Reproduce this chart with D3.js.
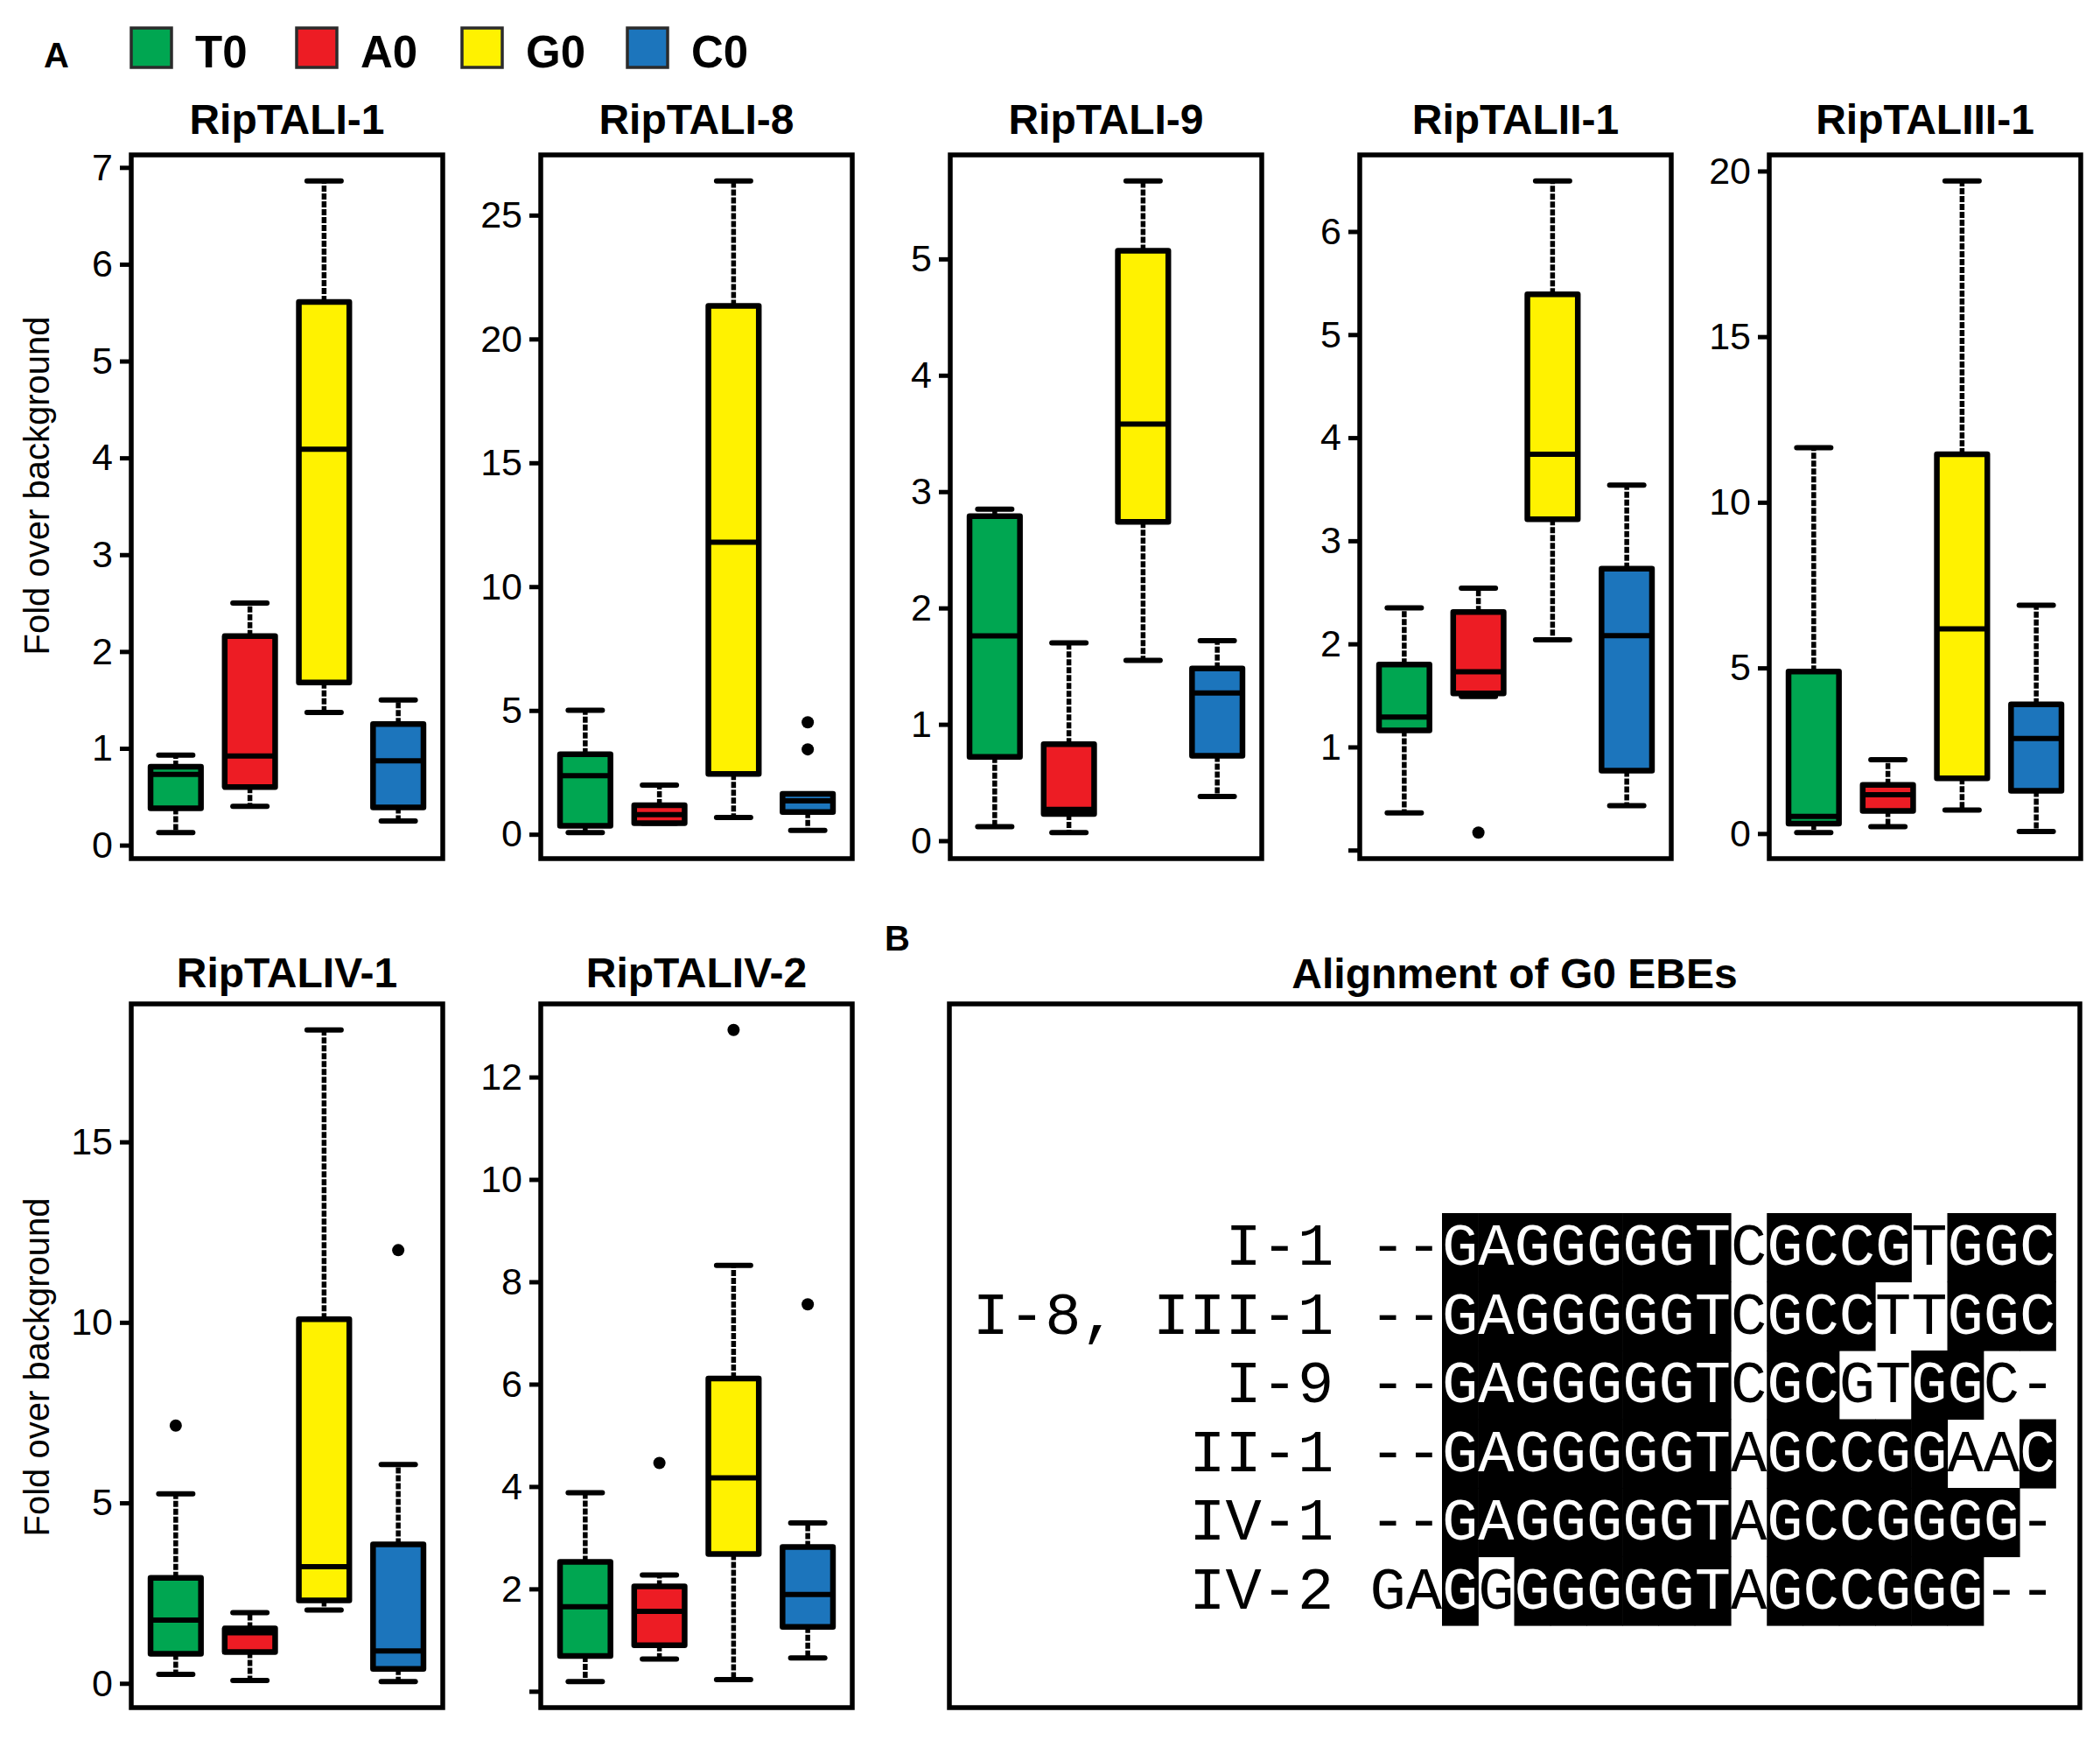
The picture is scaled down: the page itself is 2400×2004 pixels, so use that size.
<!DOCTYPE html>
<html>
<head>
<meta charset="utf-8">
<script src="https://cdn.jsdelivr.net/npm/d3@7"></script>
<style>
  body { margin: 0; background: #fff; }
  svg { font-family: "Liberation Sans", Arial, sans-serif; }
</style>
</head>
<body>
<script>
// groups shown in every panel
const groups = ["T0", "A0", "G0", "C0"];
const palette = ["#00a651", "#ed1c24", "#fff200", "#1c75bc"];

const panelTitles = ["RipTALI-1", "RipTALI-8", "RipTALI-9", "RipTALII-1", "RipTALIII-1", "RipTALIV-1", "RipTALIV-2"];

// [lower whisker, Q1, median, Q3, upper whisker] per group
const ripTALI_1   = [[0.13, 0.38, 0.73, 0.81, 0.93], [0.40, 0.60, 0.92, 2.16, 2.50], [1.37, 1.68, 4.09, 5.61, 6.86], [0.25, 0.39, 0.87, 1.25, 1.50]];
const ripTALI_8   = [[0.07, 0.34, 2.37, 3.23, 5.01], [0.45, 0.45, 0.79, 1.17, 1.99], [0.68, 2.44, 11.79, 21.34, 26.38], [0.16, 0.90, 1.35, 1.63, 1.63]];
const ripTALI_9   = [[0.12, 0.72, 1.76, 2.79, 2.85], [0.07, 0.23, 0.27, 0.83, 1.70], [1.55, 2.74, 3.58, 5.07, 5.67], [0.38, 0.73, 1.27, 1.48, 1.72]];
const ripTALII_1  = [[0.36, 1.16, 1.29, 1.80, 2.35], [1.49, 1.52, 1.73, 2.31, 2.54], [2.04, 3.21, 3.84, 5.39, 6.49], [0.43, 0.77, 2.08, 2.73, 3.54]];
const ripTALIII_1 = [[0.03, 0.30, 0.52, 4.89, 11.65], [0.21, 0.68, 1.17, 1.47, 2.23], [0.71, 1.67, 6.18, 11.45, 19.70], [0.06, 1.29, 2.87, 3.90, 6.89]];
const ripTALIV_1  = [[0.25, 0.82, 1.75, 2.92, 5.25], [0.08, 0.87, 1.40, 1.52, 1.96], [2.03, 2.30, 3.23, 10.09, 18.10], [0.05, 0.40, 0.90, 3.85, 6.06]];
const ripTALIV_2  = [[0.19, 0.69, 1.65, 2.53, 3.88], [0.63, 0.90, 1.56, 2.05, 2.27], [0.23, 2.68, 4.17, 6.11, 8.32], [0.65, 1.26, 1.89, 2.82, 3.29]];

// outliers: [group index, value]
const out_I1 = [], out_I8 = [[3, 4.52], [3, 3.43]], out_I9 = [], out_II1 = [[1, 0.17]];
const out_III1 = [], out_IV1 = [[0, 7.14], [3, 12.0]], out_IV2 = [[1, 4.46], [2, 12.92], [3, 7.56]];

// y ticks and their labels
const ticks_I1 = [0, 1, 2, 3, 4, 5, 6, 7],   labels_I1 = ["0", "1", "2", "3", "4", "5", "6", "7"];
const ticks_I8 = [0, 5, 10, 15, 20, 25],     labels_I8 = ["0", "5", "10", "15", "20", "25"];
const ticks_I9 = [0, 1, 2, 3, 4, 5],         labels_I9 = ["0", "1", "2", "3", "4", "5"];
const ticks_II1 = [0, 1, 2, 3, 4, 5, 6],     labels_II1 = ["", "1", "2", "3", "4", "5", "6"];
const ticks_III1 = [0, 5, 10, 15, 20],       labels_III1 = ["0", "5", "10", "15", "20"];
const ticks_IV1 = [0, 5, 10, 15],            labels_IV1 = ["0", "5", "10", "15"];
const ticks_IV2 = [0, 2, 4, 6, 8, 10, 12],   labels_IV2 = ["", "2", "4", "6", "8", "10", "12"];

const yLabel = "Fold over background";

// panel B: alignment
const alnTitle = "Alignment of G0 EBEs";
const alnLabels = ["I-1", "I-8, III-1", "I-9", "II-1", "IV-1", "IV-2"];
const alnSeqs = [
  "--GAGGGGGTCGCCGTGGC",
  "--GAGGGGGTCGCCTTGGC",
  "--GAGGGGGTCGCGTGGC-",
  "--GAGGGGGTAGCCGGAAC",
  "--GAGGGGGTAGCCGGGG-",
  "GAGGGGGGGTAGCCGGG--"
];
// 1 = conserved (black cell)
const alnShade = [
  "0011111111011110111",
  "0011111111011100111",
  "0011111111011001100",
  "0011111111011111001",
  "0011111111011111110",
  "0010111111011111100"
];

const panelStats = [ripTALI_1, ripTALI_8, ripTALI_9, ripTALII_1, ripTALIII_1, ripTALIV_1, ripTALIV_2];
const panelOut = [out_I1, out_I8, out_I9, out_II1, out_III1, out_IV1, out_IV2];
const panelTicks = [ticks_I1, ticks_I8, ticks_I9, ticks_II1, ticks_III1, ticks_IV1, ticks_IV2];
const panelLabels = [labels_I1, labels_I8, labels_I9, labels_II1, labels_III1, labels_IV1, labels_IV2];

function draw() {
  const W = 2400, H = 2004;
  const frameW = 356, frameH = 804;
  const rowTop = [177, 1147];
  const colStep = 468;

  const svg = d3.select('body').append('svg')
    .attr('width', W).attr('height', H)
    .style('background', '#fff');

  // panel letters
  svg.append('text').attr('x', 50).attr('y', 77).text('A')
    .attr('font-size', 40).attr('font-weight', 'bold');
  svg.append('text').attr('x', 1011).attr('y', 1086).text('B')
    .attr('font-size', 40).attr('font-weight', 'bold');

  // legend
  const leg = svg.append('g');
  groups.forEach((g, i) => {
    const lx = 150 + i * 189;
    leg.append('rect').attr('x', lx).attr('y', 32).attr('width', 46).attr('height', 45)
      .attr('fill', palette[i]).attr('stroke', '#2b2b2b').attr('stroke-width', 3.5);
    leg.append('text').attr('x', lx + 73).attr('y', 77).text(g)
      .attr('font-size', 51).attr('font-weight', 'bold');
  });

  panelTitles.forEach((title, p) => {
    const row = p < 5 ? 0 : 1;
    const col = p < 5 ? p : p - 5;
    const left = 150 + col * colStep;
    const top = rowTop[row];
    const stats = panelStats[p];

    // R-style 4% padding around the data range
    const lo = d3.min([...stats.map(s => s[0]), ...panelOut[p].map(o => o[1])]);
    const hi = d3.max([...stats.map(s => s[4]), ...panelOut[p].map(o => o[1])]);
    const pad = (hi - lo) * 0.04;

    const y = d3.scaleLinear().domain([lo - pad, hi + pad]).range([top + frameH, top]);
    const x = d3.scaleLinear().domain([0.4, 4.6]).range([left, left + frameW]);
    const boxHalf = x(0.34) - x(0);
    const capHalf = x(0.23) - x(0);

    const g = svg.append('g');

    g.append('text').attr('x', left + frameW / 2).attr('y', row === 0 ? 153 : 1128)
      .attr('text-anchor', 'middle').attr('font-size', 48).attr('font-weight', 'bold')
      .text(title);

    stats.forEach((s, i) => {
      const cx = x(i + 1);
      const [wl, q1, md, q3, wh] = s;
      [[q3, wh], [q1, wl]].forEach(([a, b]) => {
        if (a !== b) {
          g.append('line').attr('x1', cx).attr('x2', cx).attr('y1', y(a)).attr('y2', y(b))
            .attr('stroke', '#000').attr('stroke-width', 5.5).attr('stroke-dasharray', '7,2');
        }
      });
      [wl, wh].forEach(v => {
        g.append('line').attr('x1', cx - capHalf).attr('x2', cx + capHalf)
          .attr('y1', y(v)).attr('y2', y(v))
          .attr('stroke', '#000').attr('stroke-width', 6).attr('stroke-linecap', 'round');
      });
      g.append('rect').attr('x', cx - boxHalf).attr('width', boxHalf * 2)
        .attr('y', y(q3)).attr('height', Math.max(0.5, y(q1) - y(q3)))
        .attr('fill', palette[i]).attr('stroke', '#000').attr('stroke-width', 6.5)
        .attr('stroke-linejoin', 'round');
      g.append('line').attr('x1', cx - boxHalf).attr('x2', cx + boxHalf)
        .attr('y1', y(md)).attr('y2', y(md))
        .attr('stroke', '#000').attr('stroke-width', 6);
    });

    panelOut[p].forEach(o => {
      g.append('circle').attr('cx', x(o[0] + 1)).attr('cy', y(o[1])).attr('r', 7).attr('fill', '#000');
    });

    g.append('rect').attr('x', left).attr('y', top).attr('width', frameW).attr('height', frameH)
      .attr('fill', 'none').attr('stroke', '#000').attr('stroke-width', 5.5);

    const labs = panelLabels[p];
    const axis = d3.axisLeft(y).tickValues(panelTicks[p]).tickSize(13).tickPadding(8)
      .tickFormat((d, i) => labs[i]);
    g.append('g').attr('transform', `translate(${left},0)`).call(axis)
      .call(a => a.select('.domain').remove())
      .call(a => a.selectAll('.tick line').attr('stroke-width', 5))
      .call(a => a.selectAll('.tick text').attr('font-size', 43)
        .attr('font-family', '"Liberation Sans", Arial, sans-serif').attr('fill', '#000'));

    if (col === 0) {
      const cy = row === 0 ? 555 : 1562;
      g.append('text').attr('transform', `translate(56,${cy}) rotate(-90)`)
        .attr('text-anchor', 'middle').attr('font-size', 40).text(yLabel);
    }
  });

  // panel B
  const bx = 1085, by = 1147, bw = 1292, bh = 804;
  svg.append('text').attr('x', bx + bw / 2).attr('y', 1129).attr('text-anchor', 'middle')
    .attr('font-size', 48).attr('font-weight', 'bold').text(alnTitle);
  svg.append('rect').attr('x', bx).attr('y', by).attr('width', bw).attr('height', bh)
    .attr('fill', 'none').attr('stroke', '#000').attr('stroke-width', 5.5);

  const nCol = alnSeqs[0].length;
  const cw = 41.25;
  const colX = d3.scaleBand().domain(d3.range(nCol)).range([1565.5, 1565.5 + nCol * cw]);
  const rowY = d3.scaleBand().domain(d3.range(alnSeqs.length)).range([1386, 1857]);
  const mono = '"Liberation Mono", "DejaVu Sans Mono", monospace';
  const fs = cw / 0.6;

  const aln = svg.append('g');
  alnSeqs.forEach((seq, r) => {
    const base = rowY(r) + 59;
    aln.append('text').attr('x', colX(0) - cw).attr('y', base).attr('text-anchor', 'end')
      .attr('font-family', mono).attr('font-size', fs).attr('fill', '#000')
      .style('white-space', 'pre').text(alnLabels[r]);
    seq.split('').forEach((ch, c) => {
      const on = alnShade[r][c] === '1';
      if (on) {
        aln.append('rect').attr('x', colX(c)).attr('y', rowY(r))
          .attr('width', colX.bandwidth() + 0.6).attr('height', rowY.bandwidth() + 0.6)
          .attr('fill', '#000');
      }
      aln.append('text').attr('x', colX(c) + cw / 2).attr('y', base).attr('text-anchor', 'middle')
        .attr('font-family', mono).attr('font-size', fs).attr('font-weight', 300)
        .attr('fill', on ? '#fff' : '#000').text(ch);
    });
  });
}

draw();
</script>
</body>
</html>
